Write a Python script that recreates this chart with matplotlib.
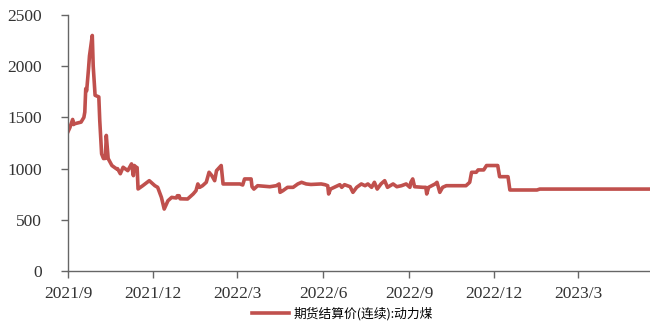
import pandas as pd
import matplotlib
matplotlib.use("Agg")
import matplotlib.pyplot as plt

# settlement price of thermal coal futures (continuous contract)
dates = [
    "2021-09-01", "2021-09-03", "2021-09-06", "2021-09-07", "2021-09-08", "2021-09-15",
    "2021-09-18", "2021-09-19", "2021-09-20", "2021-09-21", "2021-09-23", "2021-09-24",
    "2021-09-27", "2021-09-28", "2021-09-30", "2021-10-04", "2021-10-05", "2021-10-07",
    "2021-10-09", "2021-10-11", "2021-10-12", "2021-10-14", "2021-10-18", "2021-10-23",
    "2021-10-24", "2021-10-27", "2021-10-30", "2021-11-04", "2021-11-08", "2021-11-10",
    "2021-11-11", "2021-11-13", "2021-11-14", "2021-11-15", "2021-11-20", "2021-11-27",
    "2021-11-29", "2021-12-03", "2021-12-06", "2021-12-10", "2021-12-13", "2021-12-17",
    "2021-12-21", "2021-12-26", "2021-12-27", "2021-12-29", "2021-12-30", "2022-01-07",
    "2022-01-13", "2022-01-16", "2022-01-18", "2022-01-20", "2022-01-23", "2022-01-27",
    "2022-01-30", "2022-02-02", "2022-02-05", "2022-02-07", "2022-02-12", "2022-02-14",
    "2022-02-20", "2022-03-04", "2022-03-07", "2022-03-09", "2022-03-16", "2022-03-17",
    "2022-03-19", "2022-03-23", "2022-04-05", "2022-04-12", "2022-04-15", "2022-04-16",
    "2022-04-19", "2022-04-24", "2022-04-30", "2022-05-05", "2022-05-09", "2022-05-14",
    "2022-05-19", "2022-05-30", "2022-06-03", "2022-06-06", "2022-06-07", "2022-06-09",
    "2022-06-19", "2022-06-21", "2022-06-24", "2022-06-30", "2022-07-03", "2022-07-07",
    "2022-07-12", "2022-07-16", "2022-07-19", "2022-07-23", "2022-07-26", "2022-07-29",
    "2022-08-02", "2022-08-06", "2022-08-09", "2022-08-15", "2022-08-19", "2022-08-24",
    "2022-08-29", "2022-09-02", "2022-09-03", "2022-09-05", "2022-09-07", "2022-09-16",
    "2022-09-19", "2022-09-20", "2022-09-22", "2022-09-29", "2022-10-01", "2022-10-04",
    "2022-10-07", "2022-10-11", "2022-11-01", "2022-11-05", "2022-11-07", "2022-11-12",
    "2022-11-14", "2022-11-20", "2022-11-23", "2022-12-05", "2022-12-07", "2022-12-16",
    "2022-12-18", "2023-01-16", "2023-01-19", "2023-05-17",
]
prices = [
    1360, 1400, 1480, 1430, 1438, 1454,
    1500, 1552, 1781, 1760, 1977, 2100,
    2300, 2000, 1716, 1700, 1470, 1144,
    1098, 1100, 1324, 1098, 1030, 997,
    1000, 950, 1013, 980, 1046, 931,
    1030, 1013, 1010, 801, 833, 882,
    866, 833, 817, 719, 605, 686,
    719, 713, 735, 735, 705, 703,
    752, 784, 850, 817, 833, 866,
    964, 931, 882, 980, 1030, 850,
    850, 850, 840, 899, 899, 823,
    800, 833, 823, 833, 850, 768,
    784, 817, 817, 850, 866, 850,
    845, 850, 843, 833, 752, 800,
    843, 817, 843, 823, 768, 817,
    850, 833, 850, 817, 866, 800,
    850, 882, 817, 850, 823, 833,
    850, 817, 866, 899, 823, 817,
    817, 752, 817, 850, 866, 768,
    817, 833, 833, 866, 964, 964,
    987, 987, 1030, 1030, 921, 921,
    791, 791, 800, 800,
]
series_label = "期货结算价(连续):动力煤"
tick_dates = ["2021-09-01", "2021-12-01", "2022-03-01", "2022-06-01",
              "2022-09-01", "2022-12-01", "2023-03-01"]
tick_labels = ["2021/9", "2021/12", "2022/3", "2022/6", "2022/9", "2022/12", "2023/3"]

df = pd.DataFrame({"date": pd.to_datetime(dates), "price": prices})

fig = plt.figure(figsize=(6.5, 3.24), dpi=100)
ax = fig.add_axes([0.1046, 0.1636, 0.8954, 0.7901])

line_color = "#C0504D"
ax.plot(df["date"], df["price"], color=line_color, lw=2.6, label=series_label,
        solid_joinstyle="round")

ax.set_ylim(0, 2500)
ax.set_yticks(range(0, 2501, 500))
ax.set_xlim(df["date"].iloc[0], df["date"].iloc[-1])
ax.set_xticks(pd.to_datetime(tick_dates))
ax.set_xticklabels(tick_labels)

for s in ["top", "right"]:
    ax.spines[s].set_visible(False)
for s in ["left", "bottom"]:
    ax.spines[s].set_color("#666666")
    ax.spines[s].set_linewidth(1.0)

ax.tick_params(axis="both", direction="out", length=5, width=1.0, color="#666666",
               labelcolor="#333333", labelsize=12.5)
ax.tick_params(axis="y", pad=14)
ax.tick_params(axis="x", pad=6)
for lbl in ax.get_xticklabels() + ax.get_yticklabels():
    lbl.set_fontfamily("Liberation Serif")

fig.legend(loc="center", bbox_to_anchor=(0.527, 0.031), frameon=False,
           handlelength=2.9, handletextpad=0.3,
           prop={"family": ["Noto Sans CJK SC", "DejaVu Sans"], "size": 9.2})

fig.savefig("out.png", dpi=100)
